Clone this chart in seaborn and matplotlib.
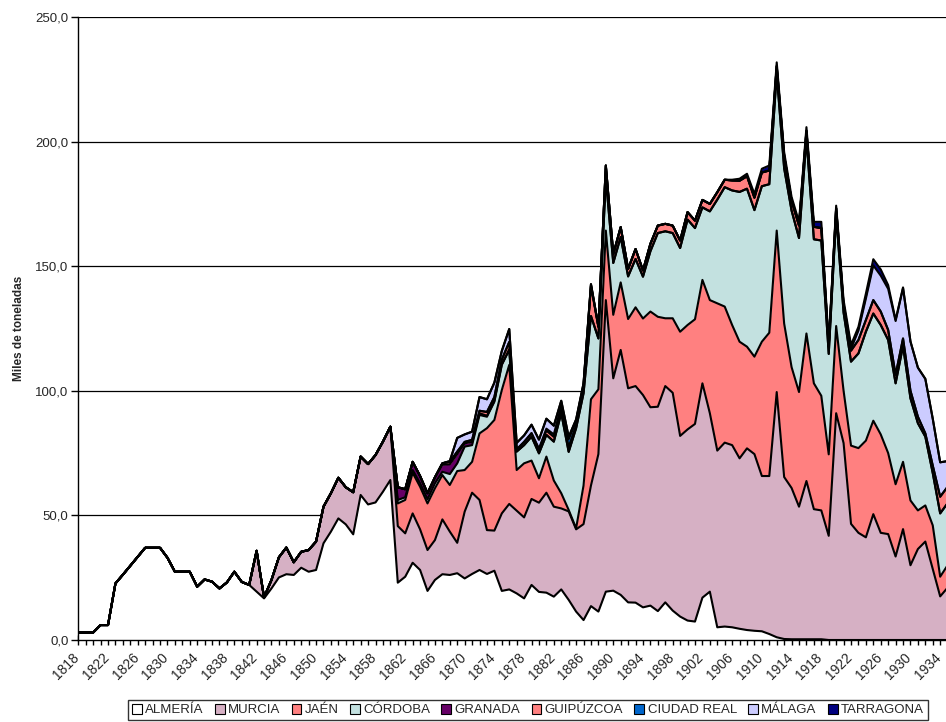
import numpy as np
import pandas as pd
import matplotlib
matplotlib.use('Agg')
import matplotlib.pyplot as plt
import matplotlib.transforms as mtransforms
from matplotlib.patches import Patch
from matplotlib.ticker import FixedLocator, FuncFormatter
import seaborn as sns

sns.set_style('white')
plt.rcParams['font.family'] = ['Liberation Sans', 'DejaVu Sans']

# años del eje
years = list(range(1818, 1936))

# producción por provincia (miles de toneladas), cada serie desde su primer año
almeria_start = 1818
almeria = [3.0, 3.0,
           3.0, 6.0, 6.0, 22.7, 26.2, 29.8, 33.4, 37.0, 37.0, 37.0,
           33.0, 27.4, 27.4, 27.4, 21.4, 24.3, 23.4, 20.7, 23.1, 27.4,
           23.3, 22.1, 19.4, 16.7, 20.7, 25.1, 26.4, 26.1, 29.0, 27.4,
           28.1, 38.8, 43.5, 48.8, 46.4, 42.4, 58.2, 54.4, 55.2, 59.5,
           64.2, 23.0, 25.4, 31.0, 28.1, 19.7, 24.1, 26.4, 26.1, 26.8,
           24.7, 26.5, 28.1, 26.5, 27.8, 19.7, 20.3, 18.7, 16.7, 22.1,
           19.3, 19.0, 17.4, 20.3, 16.1, 11.4, 8.0, 13.6, 11.4, 19.4,
           19.8, 18.1, 15.1, 15.0, 13.1, 13.8, 11.6, 15.1, 11.8, 9.4,
           7.8, 7.4, 17.0, 19.4, 5.1, 5.4, 5.1, 4.5, 4.0, 3.7,
           3.5, 2.4, 1.1, 0.4, 0.3, 0.3, 0.3, 0.3, 0.3]

murcia_start = 1842
murcia = [16.4, 0.4, 3.4, 8.1, 10.7, 5.1, 6.4, 8.7,
          11.4, 14.7, 15.4, 16.3, 14.9, 16.9, 15.4, 16.2, 19.0, 20.1,
          21.4, 22.7, 17.4, 19.8, 16.3, 16.4, 16.0, 22.0, 17.4, 12.2,
          26.8, 32.6, 28.1, 17.6, 16.1, 31.1, 34.3, 33.2, 32.5, 34.5,
          35.8, 40.1, 36.1, 32.5, 35.5, 33.0, 38.5, 48.4, 63.2, 117.0,
          85.2, 98.3, 85.9, 86.9, 85.2, 79.6, 82.0, 86.8, 87.4, 72.5,
          76.7, 79.3, 86.0, 71.6, 70.9, 73.8, 73.1, 68.4, 72.9, 70.9,
          62.3, 63.4, 98.4, 65.0, 60.7, 53.2, 63.5, 52.2, 51.7, 41.8,
          91.0, 79.0, 46.6, 43.0, 41.2, 50.5, 43.0, 42.5, 33.5, 44.5,
          30.0, 36.5, 39.5, 28.5, 17.5, 21.0]

jaen_start = 1861
jaen = [9.1, 13.4, 16.3, 17.1, 18.7, 20.8, 17.8, 18.7, 28.8,
        16.7, 12.4, 26.7, 40.9, 44.4, 49.5, 55.8, 16.3, 21.7, 15.4,
        9.8, 14.5, 10.5, 6.1, 0.6, 0.4, 15.5, 34.6, 26.0, 27.9,
        25.5, 27.1, 27.8, 31.6, 30.7, 38.4, 36.1, 27.2, 29.9, 41.8,
        41.9, 42.0, 41.5, 45.4, 59.1, 54.6, 48.2, 46.8, 40.8, 39.1,
        53.9, 57.5, 64.8, 61.6, 48.5, 46.0, 59.2, 50.5, 46.0, 32.7,
        35.0, 21.0, 31.4, 34.0, 38.8, 37.5, 39.5, 32.5, 29.0, 27.0,
        26.0, 15.5, 14.5, 17.5, 7.9, 9.0]

cordoba_start = 1861
cordoba = [1.4, 1.1, 1.1, 1.4, 1.7, 2.0, 1.3, 4.4, 3.1,
           9.4, 6.7, 7.4, 4.6, 7.3, 10.1, 6.0, 7.4, 7.3, 9.6,
           10.0, 8.7, 15.6, 32.1, 23.3, 40.2, 37.0, 33.4, 20.4, 21.1,
           20.8, 18.2, 17.1, 19.4, 16.8, 24.2, 33.6, 34.9, 34.2, 33.6,
           42.3, 36.6, 29.1, 35.6, 41.6, 47.9, 54.0, 60.1, 63.4, 58.8,
           62.4, 59.6, 63.0, 62.3, 62.8, 61.8, 78.3, 57.8, 62.3, 40.3,
           44.3, 31.4, 33.7, 38.0, 43.7, 43.0, 43.9, 45.4, 40.5, 46.5,
           41.0, 35.0, 27.6, 21.0, 25.4, 24.9]

granada_start = 1861
granada = [5.1, 3.2, 3.3, 2.9, 2.4, 2.4, 2.8, 3.9, 3.7,
           1.3, 1.3, 0.7, 0.4, 0.4, 0.2, 0.2]

guipuzcoa_start = 1867
guipuzcoa = [0.6, 1.0, 1.0,
             0.6, 0.8, 1.0, 1.5, 1.5, 1.9, 3.0, 0.9, 1.3, 1.4,
             1.6, 1.7, 1.9, 1.5, 2.0, 1.2, 2.5, 12.0, 4.5, 5.0,
             3.5, 4.0, 3.0, 4.0, 2.5, 3.0, 3.0, 3.0, 3.0, 3.0,
             3.0, 3.0, 3.0, 3.0, 3.0, 3.0, 4.0, 4.5, 5.0, 5.0,
             5.5, 5.5, 3.0, 5.0, 4.0, 5.0, 3.0, 5.0, 5.0, 3.0,
             3.0, 3.0, 4.4, 5.4, 4.7, 5.4, 5.4, 4.0, 3.4, 3.0,
             3.0, 2.6, 1.3, 3.0, 6.7, 6.6]

ciudad_real_start = 1880
ciudad_real = [0.3, 0.8, 1.0, 1.5, 3.0, 1.5, 1.0, 0.5, 0.3]

malaga_start = 1868
malaga = [0.3, 5.5,
          3.0, 3.3, 5.5, 5.1, 5.8, 3.5, 5.2, 2.6, 2.6, 3.4,
          3.6, 4.0, 3.5, 2.0, 1.0, 0.8, 0.5, 0.3]
malaga_late_start = 1921
malaga_late = [0.5, 0.8, 3.8, 8.6, 13.9, 14.4, 16.5, 21.6, 20.2,
               19.8, 19.7, 21.9, 18.8, 13.8, 10.3]

tarragona_start = 1906
tarragona = [0.3, 0.8, 1.0, 1.5,
             1.5, 2.0, 1.5, 1.5, 1.5, 1.5, 1.5, 2.0, 2.5, 1.5,
             1.0, 1.5, 1.5, 1.5, 2.0, 2.5, 2.5, 1.5, 0.5, 0.3]

names = ['ALMERÍA', 'MURCIA', 'JAÉN', 'CÓRDOBA', 'GRANADA', 'GUIPÚZCOA',
         'CIUDAD REAL', 'MÁLAGA', 'TARRAGONA']
colors = ['#FFFFFF', '#D6B0C4', '#FF8080', '#C3E1E0', '#660066', '#FF8080',
          '#0066CC', '#CCCCFF', '#000080']


def serie(start, vals):
    return pd.Series(vals, index=range(start, start + len(vals))).reindex(years).fillna(0)


df = pd.DataFrame(index=years)
df['ALMERÍA'] = serie(almeria_start, almeria)
df['MURCIA'] = serie(murcia_start, murcia)
df['JAÉN'] = serie(jaen_start, jaen)
df['CÓRDOBA'] = serie(cordoba_start, cordoba)
df['GRANADA'] = serie(granada_start, granada)
df['GUIPÚZCOA'] = serie(guipuzcoa_start, guipuzcoa)
df['CIUDAD REAL'] = serie(ciudad_real_start, ciudad_real)
df['MÁLAGA'] = serie(malaga_start, malaga) + serie(malaga_late_start, malaga_late)
df['TARRAGONA'] = serie(tarragona_start, tarragona)

tops = df[names].cumsum(axis=1)

# figura 946x722 px
W, H = 946, 722
fig = plt.figure(figsize=(W / 100, H / 100), dpi=100)
ax = fig.add_axes([78.3 / W, 82 / H, (W - 78.3) / W, 623 / H])

lower = np.zeros(len(years))
for name, c in zip(names, colors):
    upper = tops[name].values
    ax.fill_between(years, lower, upper, color=c, lw=0, zorder=2)
    lower = upper

# bordes negros de cada área
for name in names:
    sns.lineplot(x=years, y=tops[name].values, ax=ax, color='black', lw=1.5,
                 legend=False, zorder=3)

ax.set_xlim(1818, 1818 + (W - 78.3) / 7.43)
ax.set_ylim(0, 250)

ax.xaxis.set_major_locator(FixedLocator(list(range(1818, 1935, 4))))
ax.xaxis.set_minor_locator(FixedLocator(years))
ax.yaxis.set_major_locator(FixedLocator([0, 50, 100, 150, 200, 250]))
ax.yaxis.set_major_formatter(FuncFormatter(lambda v, p: f'{v:.1f}'.replace('.', ',')))

ax.tick_params(axis='x', which='both', direction='inout', length=7, width=1,
               color='black', bottom=True)
ax.tick_params(axis='x', which='major', labelsize=10, pad=4)
ax.tick_params(axis='y', direction='out', length=5, width=1, color='black',
               left=True, labelsize=9.5, pad=2)

# etiquetas de años inclinadas, algo desplazadas a la izquierda como en Excel
shift = mtransforms.ScaledTranslation(-6 / 100, 0, fig.dpi_scale_trans)
for lab in ax.get_xticklabels():
    lab.set_rotation(45)
    lab.set_ha('right')
    lab.set_rotation_mode('anchor')
    lab.set_transform(lab.get_transform() + shift)

ax.yaxis.grid(True, color='black', lw=0.9)
ax.xaxis.grid(False)
ax.set_axisbelow(True)

for s in ['top', 'right']:
    ax.spines[s].set_visible(False)
for s in ['left', 'bottom']:
    ax.spines[s].set_color('black')
    ax.spines[s].set_linewidth(1)
    ax.spines[s].set_zorder(4)

ax.set_xlabel('')
ax.set_ylabel('Miles de toneladas', fontsize=8.5, fontweight='bold')
ax.yaxis.set_label_coords((25 - 78.3) / (W - 78.3), 0.5)

handles = [Patch(facecolor=c, edgecolor='black', lw=0.8) for c in colors]
fig.legend(handles, names, loc='upper center', bbox_to_anchor=(528 / W, 22 / H),
           ncol=9, frameon=True, fancybox=False, edgecolor='black', fontsize=9.5,
           handlelength=0.75, handleheight=0.75, handletextpad=0.25,
           columnspacing=0.85, borderpad=0.3, borderaxespad=0)

fig.savefig('out.png', dpi=100)
